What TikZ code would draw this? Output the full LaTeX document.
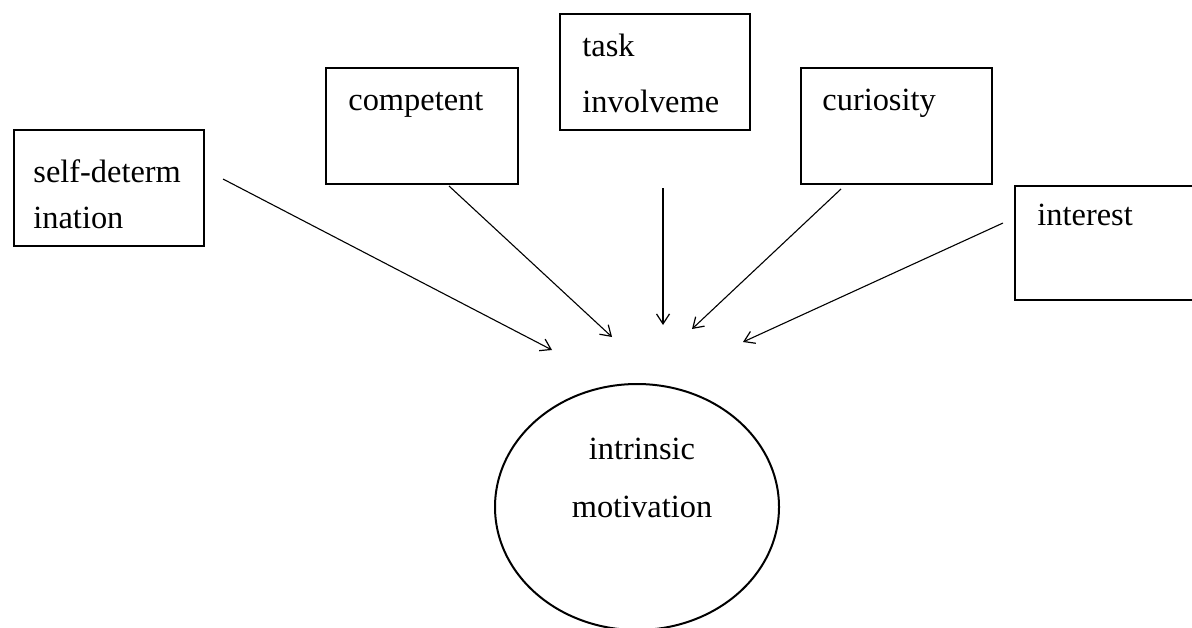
\documentclass[tikz,border=0pt]{standalone}
\usepackage{fontspec}
\setmainfont{Liberation Serif}
\usetikzlibrary{arrows.meta,shapes.geometric}

\tikzset{
  box/.style={draw, line width=1.2pt, rectangle, inner sep=0pt, anchor=north west,
              minimum width=95pt, minimum height=58pt},
  lbl/.style={inner sep=0pt, anchor=base west, font=\fontsize{16.2}{19}\selectfont},
  clbl/.style={lbl, anchor=base},
  oval/.style={draw, line width=1pt, ellipse, inner sep=0pt,
               minimum width=142pt, minimum height=123pt},
  arr/.style={line width=0.55pt, -{Straight Barb[length=5pt,width=6.5pt,line width=0.6pt]}}
}

\begin{document}
\begin{tikzpicture}[x=0.5pt,y=-0.5pt]
  % canvas
  \fill[white] (0,0) rectangle (1192,627);
  \clip (0,0) rectangle (1192,627);

  % factor boxes
  \node[box] (sd)   at (13,129)  {};
  \node[box, minimum width=96pt] (comp) at (325,67) {};
  \node[box] (task) at (559,13)  {};
  \node[box, minimum width=95.5pt] (cur) at (800,67) {};
  \node[box, minimum height=57pt] (int) at (1014,185) {};

  % box labels
  \node[lbl] (sd1)   at (33,182)   {self-determ};
  \node[lbl] (sd2)   at (33,228)   {ination};
  \node[lbl] (comp1) at (348,110)  {competent};
  \node[lbl] (task1) at (582,56)   {task};
  \node[lbl] (task2) at (582,112)  {involveme};
  \node[lbl] (cur1)  at (822,110)  {curiosity};
  \node[lbl] (int1)  at (1037,225) {interest};

  % outcome
  \node[oval] (im) at (637,507) {};
  \node[clbl] (im1) at (642,459) {intrinsic};
  \node[clbl] (im2) at (642,517) {motivation};

  % arrow end points
  \coordinate (sdA)   at (223,179);  \coordinate (sdB)   at (552,350);
  \coordinate (compA) at (449,186);  \coordinate (compB) at (612,337);
  \coordinate (taskA) at (663,188);  \coordinate (taskB) at (663,325);
  \coordinate (curA)  at (841,189);  \coordinate (curB)  at (692,329);
  \coordinate (intA)  at (1003,223); \coordinate (intB)  at (743,342);

  \draw[arr] (sdA) -- (sdB);
  \draw[arr] (compA) -- (compB);
  \draw[arr] (taskA) -- (taskB);
  \draw[arr] (curA) -- (curB);
  \draw[arr] (intA) -- (intB);
\end{tikzpicture}
\end{document}
